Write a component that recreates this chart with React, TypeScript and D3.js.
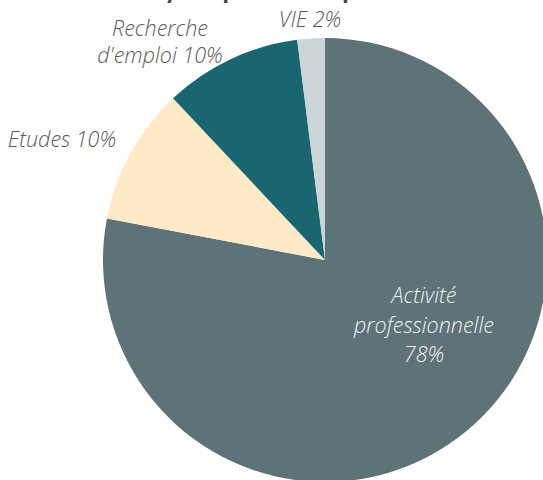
import React, { useEffect, useRef } from 'react';
import * as d3 from 'd3';

// slice data, clockwise from 12 o'clock
const categories = ['Activité professionnelle', 'Etudes', "Recherche d'emploi", 'VIE'];
const values = [78, 10, 10, 2];
const labelLines = [
  ['Activité', 'professionnelle', '78%'],
  ['Etudes 10%'],
  ['Recherche', "d'emploi 10%"],
  ['VIE 2%'],
];
const sliceColors = ['#5E7377', '#FFEAC7', '#1A6670', '#CBD5D7'];
const title = 'Analyse : parcours après la mission';

const W = 543;
const H = 480;
const cx = 325;
const cy = 260;
const R = 222;
// label offsets from pie centre and line heights (layout only)
const labelOffsets = [
  [99, 65],
  [-263, -121],
  [-165, -218],
  [-15, -241],
];
const lineHeights = [29.5, 28, 27, 28];

const App = () => {
  const svgRef = useRef<SVGSVGElement>(null);

  useEffect(() => {
    const svg = d3.select(svgRef.current);
    svg.selectAll('*').remove();

    // title sits above the frame, only the descenders show
    svg
      .append('text')
      .attr('x', 112)
      .attr('y', -1)
      .attr('font-family', 'Lato, "Open Sans", sans-serif')
      .attr('font-weight', 700)
      .attr('font-size', 26)
      .attr('fill', '#404040')
      .text(title);

    const pie = d3
      .pie<number>()
      .sort(null)
      .value(d => d)
      .startAngle(0)
      .endAngle(Math.PI * 2);
    const arc = d3.arc<d3.PieArcDatum<number>>().innerRadius(0).outerRadius(R);

    const g = svg.append('g').attr('transform', `translate(${cx},${cy})`);

    g.selectAll('path.slice')
      .data(pie(values))
      .enter()
      .append('path')
      .attr('class', 'slice')
      .attr('d', arc)
      .attr('fill', (_, i) => sliceColors[i]);

    categories.forEach((_, i) => {
      const lines = labelLines[i];
      const [dx, dy] = labelOffsets[i];
      const lh = lineHeights[i];
      const t = g
        .append('text')
        .attr('text-anchor', 'middle')
        .attr('font-family', '"Open Sans", Lato, sans-serif')
        .attr('font-style', 'italic')
        .attr('font-weight', 300)
        .attr('font-size', 21.5)
        .attr('fill', i === 0 ? '#F2F2F2' : '#595959');
      lines.forEach((ln, j) => {
        t.append('tspan')
          .attr('x', dx)
          .attr('y', dy + (j - (lines.length - 1) / 2) * lh)
          .attr('dy', '0.35em')
          .text(ln);
      });
    });
  }, []);

  return (
    <svg
      ref={svgRef}
      width={W}
      height={H}
      style={{ position: 'absolute', left: 0, top: 0, background: '#fff' }}
    />
  );
};

export default App;
